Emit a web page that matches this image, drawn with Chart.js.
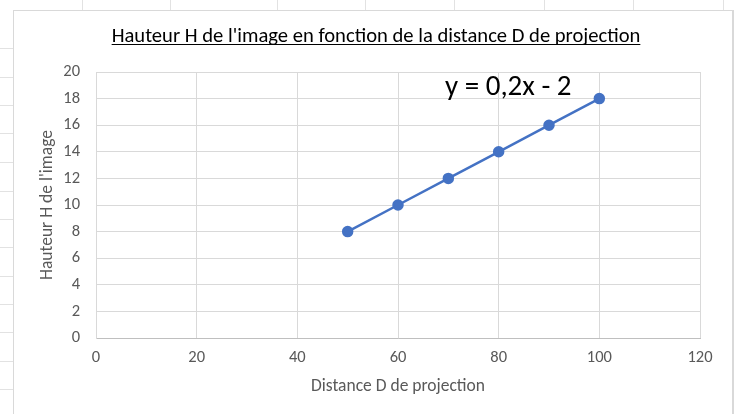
<!DOCTYPE html>
<html>
<head>
<meta charset="utf-8">
<script src="https://cdn.jsdelivr.net/npm/chart.js@4"></script>
<style>
  body { margin: 0; background: #fff; }
  #wrap { position: relative; width: 734px; height: 414px; overflow: hidden; }
  .vcell { position: absolute; top: 0; width: 1px; height: 10px; background: #e2e2e2; }
  .hcell { position: absolute; left: 0; width: 13px; height: 1px; background: #e2e2e2; }
  #box { position: absolute; left: 13px; top: 10px; width: 718px; height: 420px;
         border: 1px solid #d9d9d9; border-right-width: 2px; background: #fff; }
  #c { position: absolute; left: 0; top: 0; }
</style>
</head>
<body>
<div id="wrap">
  <div id="box"></div>
  <canvas id="c" width="734" height="414"></canvas>
</div>
<script>
// données
const distances = [50, 60, 70, 80, 90, 100];
const hauteurs = [8, 10, 12, 14, 16, 18];
const titre = "Hauteur H de l'image en fonction de la distance D de projection";
const titreX = 'Distance D de projection';
const titreY = "Hauteur H de l'image";
const equation = 'y = 0,2x - 2';

// quadrillage du tableur autour du graphique
const colonnes = [82, 170, 277, 365, 454, 544, 633, 723];
const lignes = [48, 77, 105, 133, 162, 191, 219, 247, 276, 304, 332, 361, 389];
const wrap = document.getElementById('wrap');
colonnes.forEach(x => {
    let d = document.createElement('div');
    d.className = 'vcell';
    d.style.left = x + 'px';
    wrap.insertBefore(d, wrap.firstChild);
});
lignes.forEach(y => {
    let d = document.createElement('div');
    d.className = 'hcell';
    d.style.top = y + 'px';
    wrap.insertBefore(d, wrap.firstChild);
});

const police = "Carlito, Lato, 'Open Sans', sans-serif";
const bleu = '#4472C4';
const gris = '#595959';

// titre souligné + étiquette de la courbe de tendance
const extras = {
    id: 'extras',
    afterDraw(chart) {
        const ctx = chart.ctx;
        ctx.save();
        ctx.font = '20.6px ' + police;
        ctx.fillStyle = '#000';
        ctx.textAlign = 'center';
        ctx.textBaseline = 'alphabetic';
        const cx = 376;
        ctx.fillText(titre, cx, 42);
        const w = ctx.measureText(titre).width;
        ctx.strokeStyle = '#000';
        ctx.lineWidth = 1.2;
        ctx.beginPath();
        ctx.moveTo(cx - w / 2, 44.5);
        ctx.lineTo(cx + w / 2, 44.5);
        ctx.stroke();

        ctx.font = '29px ' + police;
        ctx.textAlign = 'left';
        ctx.textBaseline = 'middle';
        ctx.fillText(equation, 445, 88);
        ctx.restore();
    }
};

const ctx = document.getElementById('c').getContext('2d');
new Chart(ctx, {
    type: 'scatter',
    data: {
        datasets: [{
            data: distances.map((d, i) => ({ x: d, y: hauteurs[i] })),
            showLine: true,
            borderColor: bleu,
            backgroundColor: bleu,
            borderWidth: 2.5,
            pointRadius: 4.5,
            pointHoverRadius: 4.5
        }]
    },
    options: {
        responsive: false,
        animation: false,
        layout: { padding: { left: 37, right: 34, top: 72, bottom: 17 } },
        plugins: {
            legend: { display: false },
            tooltip: { enabled: false },
            title: { display: false }
        },
        scales: {
            x: {
                type: 'linear',
                min: 0,
                max: 120,
                ticks: { stepSize: 20, color: gris, font: { family: police, size: 16.5 }, padding: 10, maxRotation: 0 },
                grid: { color: '#d9d9d9', drawTicks: false },
                border: { color: '#bfbfbf' },
                title: { display: true, text: titreX, color: gris, font: { family: police, size: 17.5 }, padding: 0 },
                afterFit(scale) { scale.height = 59; }
            },
            y: {
                min: 0,
                max: 20,
                ticks: { stepSize: 2, color: gris, font: { family: police, size: 16.5 }, padding: 16 },
                grid: { color: '#d9d9d9', drawTicks: false },
                border: { color: '#d9d9d9' },
                title: { display: true, text: titreY, color: gris, font: { family: police, size: 17.5 }, padding: 0 },
                afterFit(scale) { scale.width = 59; }
            }
        }
    },
    plugins: [extras]
});
</script>
</body>
</html>
